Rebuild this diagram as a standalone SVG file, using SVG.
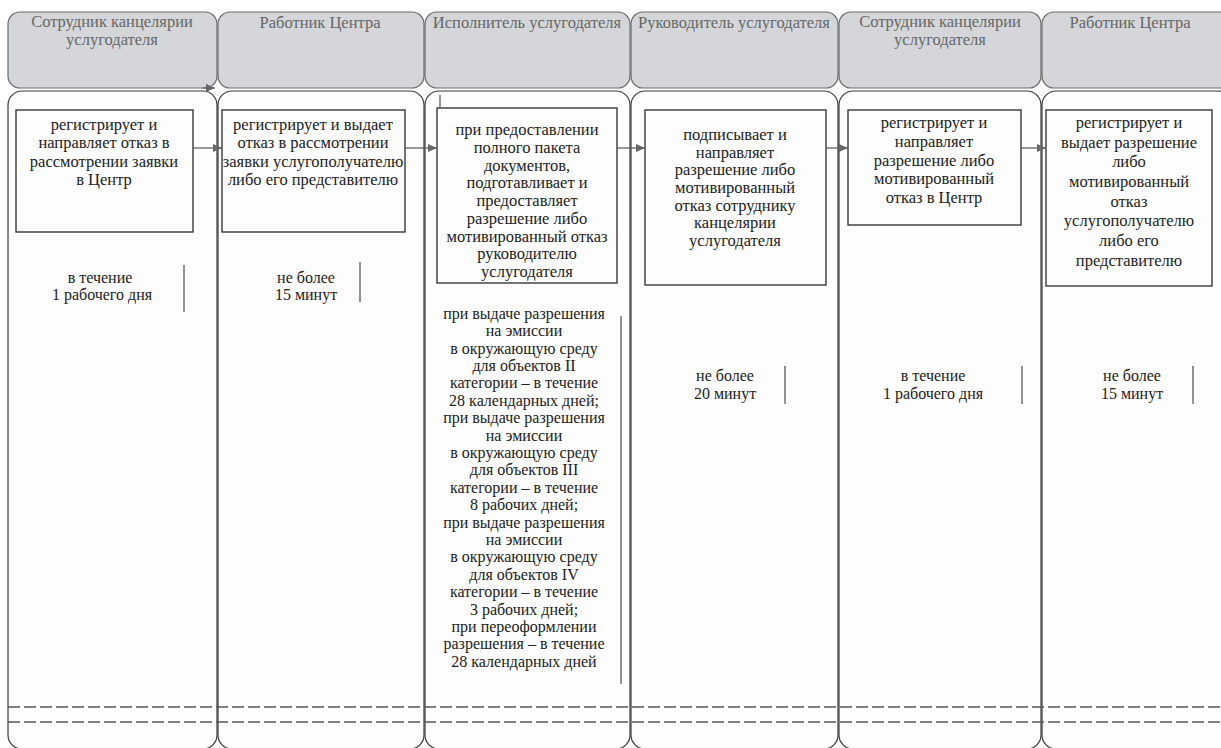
<svg xmlns="http://www.w3.org/2000/svg" width="1221" height="748" viewBox="0 0 1221 748">
<defs>
<style>
.hdr{fill:#d4d6da;stroke:#6a6a6a;stroke-width:1.2}
.lane{fill:#fdfdfd;stroke:#3a3a3a;stroke-width:1.2}
.box{fill:none;stroke:#2a2a2a;stroke-width:1.3}
.ht{font-family:"Liberation Serif","Times New Roman",serif;font-size:16.5px;fill:#666;text-anchor:middle}
.t{font-family:"Liberation Serif","Times New Roman",serif;font-size:16.5px;fill:#222;text-anchor:middle}
.tt{font-family:"Liberation Serif","Times New Roman",serif;font-size:16px;fill:#222;text-anchor:middle}
.bar{stroke:#777;stroke-width:1.6}
.conn{stroke:#555;stroke-width:1.2;fill:none}
.dash{stroke:#555;stroke-width:1.5;stroke-dasharray:12 4;fill:none}
</style>
<marker id="ah" markerWidth="10" markerHeight="8" refX="9" refY="4" orient="auto" markerUnits="userSpaceOnUse">
<path d="M0,0 L9,4 L0,8 Z" fill="#666"/>
</marker>
</defs>
<rect width="1221" height="748" fill="#ffffff"/>

<g id="lane1">
<rect class="hdr" x="8" y="12" width="209" height="76" rx="12"/>
<rect class="lane" x="8" y="91" width="209" height="658" rx="14"/>
<text class="ht" x="112" y="27">Сотрудник канцелярии</text>
<text class="ht" x="112" y="45">услугодателя</text>
</g>
<g id="lane2">
<rect class="hdr" x="218" y="12" width="206" height="76" rx="12"/>
<rect class="lane" x="218" y="91" width="206" height="658" rx="14"/>
<text class="ht" x="320" y="28">Работник Центра</text>
</g>
<g id="lane3">
<rect class="hdr" x="425" y="12" width="205" height="76" rx="12"/>
<rect class="lane" x="425" y="91" width="205" height="658" rx="14"/>
<text class="ht" x="527" y="28">Исполнитель услугодателя</text>
</g>
<g id="lane4">
<rect class="hdr" x="631" y="12" width="207" height="76" rx="12"/>
<rect class="lane" x="631" y="91" width="207" height="658" rx="14"/>
<text class="ht" x="734" y="28">Руководитель услугодателя</text>
</g>
<g id="lane5">
<rect class="hdr" x="839" y="12" width="202" height="76" rx="12"/>
<rect class="lane" x="839" y="91" width="202" height="658" rx="14"/>
<text class="ht" x="940" y="27">Сотрудник канцелярии</text>
<text class="ht" x="940" y="45">услугодателя</text>
</g>
<g id="lane6">
<rect class="hdr" x="1042" y="12" width="190" height="76" rx="12"/>
<rect class="lane" x="1042" y="91" width="190" height="658" rx="14"/>
<text class="ht" x="1130" y="28">Работник Центра</text>
</g>

<g id="step1">
<rect class="box" x="16" y="110" width="177" height="122"/>
<text class="t" x="104" y="130">регистрирует и</text>
<text class="t" x="104" y="148">направляет отказ в</text>
<text class="t" x="104" y="167">рассмотрении заявки</text>
<text class="t" x="104" y="185">в Центр</text>
</g>
<g id="step2">
<rect class="box" x="222" y="110" width="183" height="122"/>
<text class="t" x="313" y="130">регистрирует и выдает</text>
<text class="t" x="313" y="148">отказ в рассмотрении</text>
<text class="t" x="313" y="167">заявки услугополучателю</text>
<text class="t" x="313" y="185">либо его представителю</text>
</g>
<g id="step3">
<rect class="box" x="437" y="108" width="180" height="175"/>
<text class="t" x="527" y="135">при предоставлении</text>
<text class="t" x="527" y="153">полного пакета</text>
<text class="t" x="527" y="171">документов,</text>
<text class="t" x="527" y="188">подготавливает  и</text>
<text class="t" x="527" y="206">предоставляет</text>
<text class="t" x="527" y="224">разрешение либо</text>
<text class="t" x="527" y="242">мотивированный отказ</text>
<text class="t" x="527" y="259">руководителю</text>
<text class="t" x="527" y="277">услугодателя</text>
</g>
<g id="step4">
<rect class="box" x="645" y="110" width="181" height="175"/>
<text class="t" x="735" y="140">подписывает и</text>
<text class="t" x="735" y="158">направляет</text>
<text class="t" x="735" y="175">разрешение либо</text>
<text class="t" x="735" y="193">мотивированный</text>
<text class="t" x="735" y="211">отказ сотруднику</text>
<text class="t" x="735" y="228">канцелярии</text>
<text class="t" x="735" y="246">услугодателя</text>
</g>
<g id="step5">
<rect class="box" x="848" y="110" width="173" height="115"/>
<text class="t" x="934" y="128">регистрирует и</text>
<text class="t" x="934" y="147">направляет</text>
<text class="t" x="934" y="166">разрешение либо</text>
<text class="t" x="934" y="184">мотивированный</text>
<text class="t" x="934" y="203">отказ в Центр</text>
</g>
<g id="step6">
<rect class="box" x="1046" y="110" width="166" height="176"/>
<text class="t" x="1129" y="128">регистрирует и</text>
<text class="t" x="1129" y="148">выдает разрешение</text>
<text class="t" x="1129" y="167">либо</text>
<text class="t" x="1129" y="187">мотивированный</text>
<text class="t" x="1129" y="207">отказ</text>
<text class="t" x="1129" y="226">услугополучателю</text>
<text class="t" x="1129" y="246">либо его</text>
<text class="t" x="1129" y="266">представителю</text>
</g>

<g id="time1">
<text class="tt" x="100" y="283">в течение</text>
<text class="tt" x="102" y="300">1 рабочего дня</text>
<line class="bar" x1="184" y1="265" x2="184" y2="312"/>
</g>
<g id="time2">
<text class="tt" x="306" y="283">не более</text>
<text class="tt" x="306" y="300">15 минут</text>
<line class="bar" x1="360" y1="262" x2="360" y2="302"/>
</g>
<g id="time3">
<text class="tt" x="524" y="319">при выдаче разрешения</text>
<text class="tt" x="524" y="336">на эмиссии</text>
<text class="tt" x="524" y="354">в окружающую среду</text>
<text class="tt" x="524" y="371">для объектов II</text>
<text class="tt" x="524" y="388">категории – в течение</text>
<text class="tt" x="524" y="406">28 календарных дней;</text>
<text class="tt" x="524" y="423">при выдаче разрешения</text>
<text class="tt" x="524" y="441">на эмиссии</text>
<text class="tt" x="524" y="458">в окружающую среду</text>
<text class="tt" x="524" y="475">для объектов III</text>
<text class="tt" x="524" y="493">категории – в течение</text>
<text class="tt" x="524" y="510">8 рабочих дней;</text>
<text class="tt" x="524" y="528">при выдаче разрешения</text>
<text class="tt" x="524" y="545">на эмиссии</text>
<text class="tt" x="524" y="562">в окружающую среду</text>
<text class="tt" x="524" y="580">для объектов IV</text>
<text class="tt" x="524" y="597">категории – в течение</text>
<text class="tt" x="524" y="615">3 рабочих дней;</text>
<text class="tt" x="524" y="632">при переоформлении</text>
<text class="tt" x="524" y="649">разрешения – в течение</text>
<text class="tt" x="524" y="667">28 календарных дней</text>
<line class="bar" x1="621" y1="316" x2="621" y2="684"/>
</g>
<g id="time4">
<text class="tt" x="725" y="381">не более</text>
<text class="tt" x="725" y="399">20 минут</text>
<line class="bar" x1="785" y1="366" x2="785" y2="404"/>
</g>
<g id="time5">
<text class="tt" x="933" y="381">в течение</text>
<text class="tt" x="933" y="399">1 рабочего дня</text>
<line class="bar" x1="1022" y1="366" x2="1022" y2="404"/>
</g>
<g id="time6">
<text class="tt" x="1132" y="381">не более</text>
<text class="tt" x="1132" y="399">15 минут</text>
<line class="bar" x1="1193" y1="366" x2="1193" y2="404"/>
</g>

<g id="connectors">
<line class="conn" x1="193" y1="148" x2="222" y2="148" marker-end="url(#ah)"/>
<line class="conn" x1="405" y1="148" x2="437" y2="148" marker-end="url(#ah)"/>
<line class="conn" x1="617" y1="148" x2="645" y2="148" marker-end="url(#ah)"/>
<line class="conn" x1="826" y1="148" x2="848" y2="148" marker-end="url(#ah)"/>
<line class="conn" x1="1021" y1="148" x2="1046" y2="148" marker-end="url(#ah)"/>
<line class="conn" x1="203" y1="88" x2="215" y2="88" marker-end="url(#ah)"/>
<line class="conn" x1="440" y1="95" x2="440" y2="108"/>
<line class="dash" x1="8" y1="707" x2="1221" y2="707"/>
<line class="dash" x1="8" y1="722" x2="1221" y2="722"/>
</g>
</svg>
